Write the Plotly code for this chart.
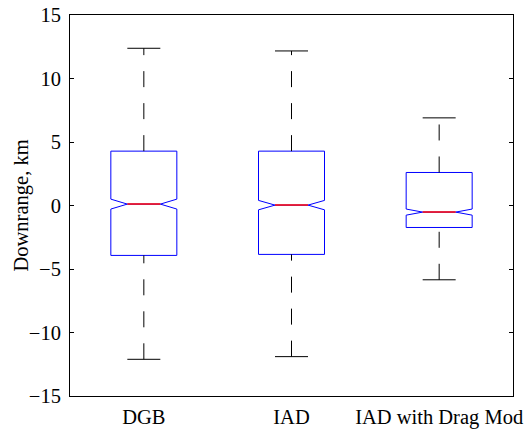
import plotly.graph_objects as go

categories = ["DGB", "IAD", "IAD with Drag Mod"]
positions = [1, 2, 3]
q1 = [-3.93, -3.85, -1.73]
median = [0.11, 0.03, -0.52]
q3 = [4.28, 4.28, 2.60]
lower = [-12.11, -11.90, -5.85]
upper = [12.38, 12.17, 6.90]
notchspan = [0.39, 0.37, 0.24]
y_ticks = [-15, -10, -5, 0, 5, 10, 15]
y_title = "Downrange, km"

BOX_W = 0.447
FONT = dict(family="Liberation Serif", size=20.5, color="black")

fig = go.Figure()

# dashed whiskers (upper: from box to cap, lower: from cap to box)
wx, wy = [], []
for p, a, b, lo, hi in zip(positions, q1, q3, lower, upper):
    wx += [p, p, None, p, p, None]
    wy += [b, hi, None, lo, a, None]
fig.add_trace(go.Scatter(x=wx, y=wy, mode="lines", hoverinfo="skip",
                         line=dict(color="black", width=1, dash="16px,16px"),
                         showlegend=False))

# caps
cx, cy = [], []
for p, lo, hi in zip(positions, lower, upper):
    cx += [p - BOX_W / 4, p + BOX_W / 4, None, p - BOX_W / 4, p + BOX_W / 4, None]
    cy += [hi, hi, None, lo, lo, None]
fig.add_trace(go.Scatter(x=cx, y=cy, mode="lines", hoverinfo="skip",
                         line=dict(color="black", width=1), showlegend=False))

# notched boxes
fig.add_trace(go.Box(x=positions, q1=q1, median=median, q3=q3,
                     lowerfence=q1, upperfence=q3, notchspan=notchspan,
                     notched=True, notchwidth=0.25, width=BOX_W,
                     whiskerwidth=0, boxpoints=False,
                     line=dict(color="#0000ff", width=1),
                     fillcolor="rgba(0,0,0,0)", showlegend=False))

# red medians
mx, my = [], []
for p, m in zip(positions, median):
    mx += [p - BOX_W / 4, p + BOX_W / 4, None]
    my += [m, m, None]
fig.add_trace(go.Scatter(x=mx, y=my, mode="lines", hoverinfo="skip",
                         line=dict(color="#ff0000", width=1.5), showlegend=False))

fig.update_layout(
    width=527, height=429,
    margin=dict(l=70, r=14, t=15, b=33),
    paper_bgcolor="white", plot_bgcolor="white",
    font=FONT,
    xaxis=dict(range=[0.5, 3.5], tickvals=positions, ticktext=categories,
               showgrid=False, zeroline=False, showline=True, linecolor="black",
               linewidth=1, mirror=True, ticks="", tickfont=FONT, automargin=False,
               ticklabelstandoff=2),
    yaxis=dict(range=[-15, 15], tickvals=y_ticks, showgrid=False, zeroline=False,
               showline=True, linecolor="black", linewidth=1, mirror="ticks",
               ticks="inside", ticklen=4, tickcolor="black", tickfont=FONT,
               automargin=False, ticklabelstandoff=4),
    annotations=[dict(text=y_title, xref="paper", yref="paper", x=0, y=0.5,
                      xanchor="center", yanchor="middle", xshift=-49,
                      textangle=-90, showarrow=False, font=FONT)],
)

fig.write_html("out.html")
